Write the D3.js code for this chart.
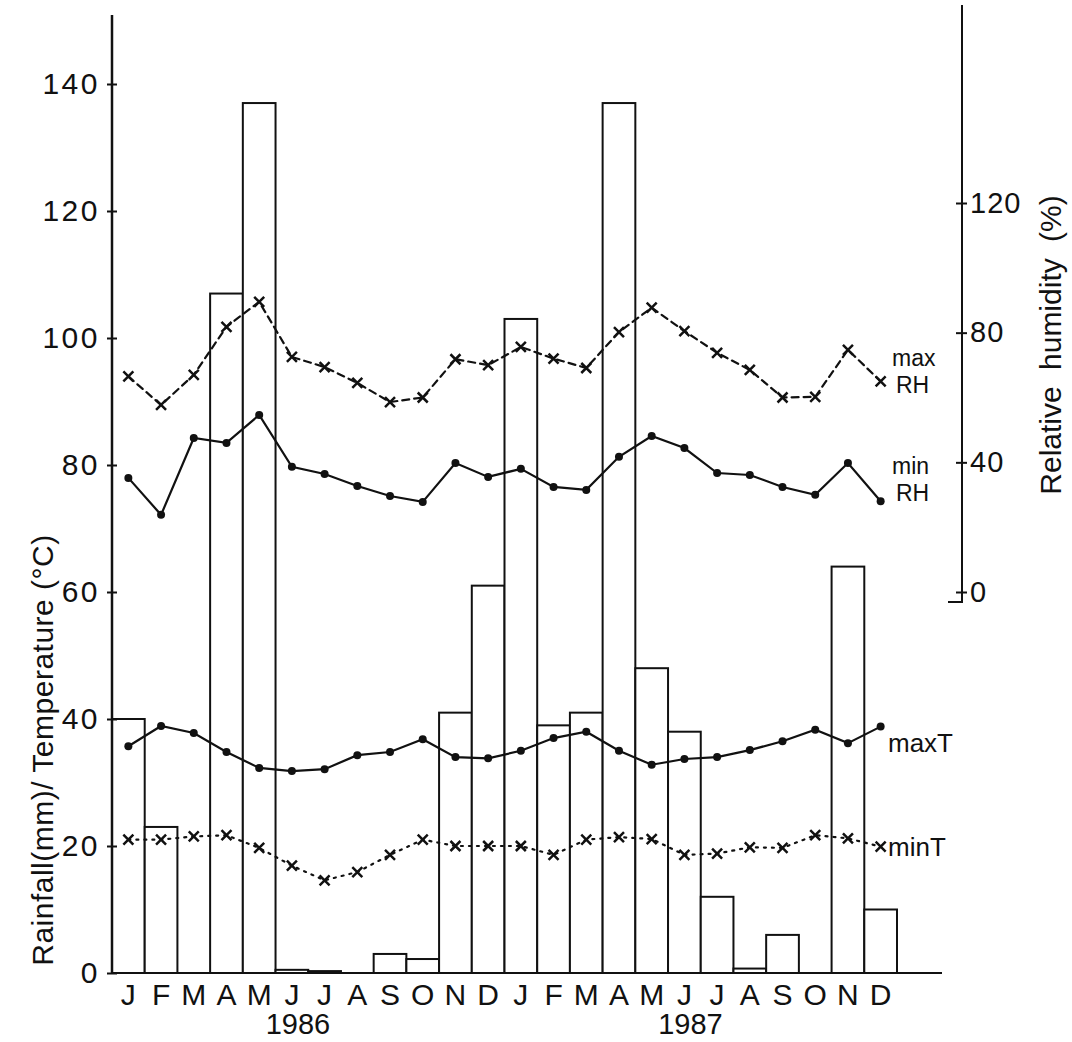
<!DOCTYPE html>
<html>
<head>
<meta charset="utf-8">
<script src="https://cdn.jsdelivr.net/npm/d3@7/dist/d3.min.js"></script>
<style>
  body { margin: 0; background: #fff; }
  svg text { font-family: "Liberation Sans", Arial, Helvetica, sans-serif; fill: #111; }
</style>
</head>
<body>
<svg id="chart" width="1072" height="1042"></svg>
<script>
// months Jan 1986 .. Dec 1987
var months = ['J','F','M','A','M','J','J','A','S','O','N','D',
              'J','F','M','A','M','J','J','A','S','O','N','D'];
var years = ['1986', '1987'];

// rainfall (mm) bars
var rainfall = [40, 23, 0, 107, 137, 0.5, 0.3, 0, 3, 2.2, 41, 61,
                103, 39, 41, 137, 48, 38, 12, 0.7, 6, 0, 64, 10];

// temperature (C)
var maxT = [35.7, 38.9, 37.8, 34.8, 32.3, 31.8, 32.1, 34.3, 34.8, 36.8, 34.0, 33.8,
            35.0, 37.0, 38.0, 35.0, 32.8, 33.7, 34.0, 35.1, 36.5, 38.3, 36.2, 38.8];
var minT = [21.0, 21.0, 21.5, 21.7, 19.7, 16.9, 14.6, 15.9, 18.6, 21.0, 20.0, 20.0,
            20.0, 18.6, 21.0, 21.4, 21.1, 18.6, 18.8, 19.8, 19.7, 21.7, 21.2, 19.9];

// relative humidity (%)
var maxRH = [66.5, 57.7, 67, 81.8, 89.5, 72.5, 69.4, 64.5, 58.6, 60.0, 71.8, 70.0,
             75.6, 72.0, 69.1, 80.2, 87.7, 80.5, 73.8, 68.5, 60.0, 60.2, 74.7, 65.0];
var minRH = [35.2, 23.8, 47.5, 46.0, 54.6, 38.6, 36.4, 32.7, 29.6, 27.8, 39.8, 35.5,
             38.0, 32.4, 31.5, 41.7, 48.1, 44.4, 36.7, 36.1, 32.4, 30.0, 39.8, 28.0];

var leftTicks = [0, 20, 40, 60, 80, 100, 120, 140];
var rightTicks = [0, 40, 80, 120];

var svg = d3.select('#chart');

var x = d3.scaleBand().domain(d3.range(months.length)).range([112, 897]).padding(0);
var y = d3.scaleLinear().domain([0, 140]).range([973, 84]);
var yRH = d3.scaleLinear().domain([0, 120]).range([592, 203]);
var cx = function(i) { return x(i) + x.bandwidth() / 2; };

// bars
svg.append('g').attr('class', 'bars')
  .selectAll('rect')
  .data(rainfall)
  .enter().append('rect')
    .attr('x', function(d, i) { return x(i); })
    .attr('y', function(d) { return y(d); })
    .attr('width', x.bandwidth())
    .attr('height', function(d) { return y(0) - y(d); })
    .attr('fill', '#fff')
    .attr('stroke', '#111')
    .attr('stroke-width', 2);

// axes lines
svg.append('line')
  .attr('x1', 112).attr('x2', 112)
  .attr('y1', y(0)).attr('y2', 15)
  .attr('stroke', '#111').attr('stroke-width', 2.5);
svg.append('line')
  .attr('x1', 112).attr('x2', 942)
  .attr('y1', y(0)).attr('y2', y(0))
  .attr('stroke', '#111').attr('stroke-width', 2);
svg.append('path')
  .attr('d', 'M948,' + (yRH(0) + 10) + 'H962V5')
  .attr('fill', 'none')
  .attr('stroke', '#111').attr('stroke-width', 2);

// left axis
var gl = svg.append('g')
  .attr('transform', 'translate(112,0)')
  .call(d3.axisLeft(y).tickValues(leftTicks).tickSize(0).tickPadding(12));
gl.select('.domain').remove();
gl.selectAll('.tick line').attr('x1', -5).attr('x2', 5).attr('stroke', '#111').attr('stroke-width', 2);
gl.selectAll('.tick text')
  .style('font-size', '30px')
  .attr('fill', '#111')
  .style('letter-spacing', '2.5px');

// right axis
var gr = svg.append('g')
  .attr('transform', 'translate(962,0)')
  .call(d3.axisRight(yRH).tickValues(rightTicks).tickSize(0).tickPadding(8));
gr.select('.domain').remove();
gr.selectAll('.tick line').attr('x1', -6).attr('x2', 5).attr('stroke', '#111').attr('stroke-width', 2);
gr.selectAll('.tick text')
  .style('font-size', '29px')
  .attr('fill', '#111')
  .style('letter-spacing', '1px');

// month labels
svg.append('g').attr('class', 'months')
  .selectAll('text')
  .data(months)
  .enter().append('text')
    .attr('x', function(d, i) { return cx(i); })
    .attr('y', 1005)
    .attr('text-anchor', 'middle')
    .style('font-size', '30px')
    .text(function(d) { return d; });

svg.append('g').attr('class', 'years')
  .selectAll('text')
  .data(years)
  .enter().append('text')
    .attr('x', function(d, i) { return cx(i * 12 + 5) + 6; })
    .attr('y', 1034)
    .attr('text-anchor', 'middle')
    .style('font-size', '29px')
    .text(function(d) { return d; });

// axis titles
svg.append('text')
  .attr('transform', 'translate(53,750) rotate(-90)')
  .attr('text-anchor', 'middle')
  .style('font-size', '30px')
  .style('letter-spacing', '0.5px')
  .text('Rainfall(mm)/ Temperature (°C)');

svg.append('text')
  .attr('transform', 'translate(1061,345) rotate(-90)')
  .attr('text-anchor', 'middle')
  .style('font-size', '30px')
  .style('word-spacing', '8px')
  .text('Relative humidity (%)');

// lines
function drawSeries(values, scale, dash, marker) {
  var line = d3.line()
    .x(function(d, i) { return cx(i); })
    .y(function(d) { return scale(d); });

  var g = svg.append('g');
  g.append('path')
    .datum(values)
    .attr('d', line)
    .attr('fill', 'none')
    .attr('stroke', '#111')
    .attr('stroke-width', 2.2)
    .attr('stroke-linecap', 'round')
    .attr('stroke-dasharray', dash);

  if (marker === 'dot') {
    g.selectAll('circle')
      .data(values)
      .enter().append('circle')
        .attr('cx', function(d, i) { return cx(i); })
        .attr('cy', function(d) { return scale(d); })
        .attr('r', 4)
        .attr('fill', '#111');
  } else {
    var s = 5;
    g.selectAll('path.mk')
      .data(values)
      .enter().append('path')
        .attr('class', 'mk')
        .attr('d', function(d, i) {
          var px = cx(i), py = scale(d);
          return 'M' + (px - s) + ',' + (py - s) + 'L' + (px + s) + ',' + (py + s) +
                 'M' + (px + s) + ',' + (py - s) + 'L' + (px - s) + ',' + (py + s);
        })
        .attr('stroke', '#111')
        .attr('stroke-width', 2.5);
  }
}

drawSeries(maxRH, yRH, '7,5', 'x');
drawSeries(minRH, yRH, null, 'dot');
drawSeries(maxT, y, null, 'dot');
drawSeries(minT, y, '2,6', 'x');

// series labels
var seriesLabels = [
  { t: 'max', x: 892, y: 366, s: 23 },
  { t: 'RH', x: 896, y: 393, s: 23 },
  { t: 'min', x: 892, y: 474, s: 23 },
  { t: 'RH', x: 896, y: 501, s: 23 },
  { t: 'maxT', x: 888, y: 752, s: 26 },
  { t: 'minT', x: 888, y: 856, s: 26 }
];
svg.append('g').attr('class', 'series-labels')
  .selectAll('text')
  .data(seriesLabels)
  .enter().append('text')
    .attr('x', function(d) { return d.x; })
    .attr('y', function(d) { return d.y; })
    .style('font-size', function(d) { return d.s + 'px'; })
    .text(function(d) { return d.t; });
</script>
</body>
</html>
